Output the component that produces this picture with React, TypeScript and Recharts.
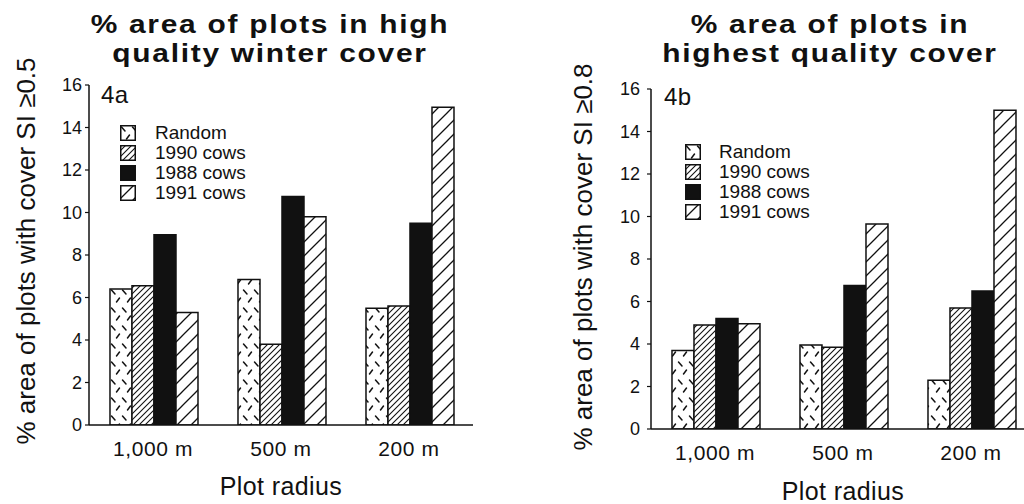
import React from 'react';
import { BarChart, Bar, XAxis, YAxis, Legend, Label } from 'recharts';

// ---- data ----
const categories = ['1,000 m', '500 m', '200 m'];
const seriesNames = ['Random', '1990 cows', '1988 cows', '1991 cows'];
const seriesKeys = ['random', 'cows1990', 'cows1988', 'cows1991'];
const yTicks = [0, 2, 4, 6, 8, 10, 12, 14, 16];

// 4a: high quality winter cover (SI >= 0.5)
const winterRandom = [6.4, 6.85, 5.5];
const winter1990 = [6.55, 3.8, 5.6];
const winter1988 = [8.95, 10.75, 9.5];
const winter1991 = [5.3, 9.8, 14.95];

// 4b: highest quality cover (SI >= 0.8)
const highestRandom = [3.7, 3.95, 2.3];
const highest1990 = [4.9, 3.85, 5.7];
const highest1988 = [5.2, 6.75, 6.5];
const highest1991 = [4.95, 9.65, 15.0];

const titleA = ['% area of plots in high', 'quality winter cover'];
const titleB = ['% area of plots in', 'highest quality cover'];
const yLabelA = '% area of plots with cover SI \u22650.5';
const yLabelB = '% area of plots with cover SI \u22650.8';
const xLabel = 'Plot radius';

const buildRows = (a: number[], b: number[], c: number[], d: number[]) =>
  categories.map((radius, i) => ({
    radius,
    random: a[i],
    cows1990: b[i],
    cows1988: c[i],
    cows1991: d[i],
  }));

const dataA = buildRows(winterRandom, winter1990, winter1988, winter1991);
const dataB = buildRows(highestRandom, highest1990, highest1988, highest1991);

// ---- styles ----
const FONT = '"Liberation Sans", Arial, Helvetica, sans-serif';
const INK = '#111';
const fills = ['url(#pRandom)', 'url(#pDense)', INK, 'url(#pSparse)'];
const fillFor = (name: string) => {
  const i = seriesNames.indexOf(name);
  return i >= 0 ? fills[i] : INK;
};

function PatternDefs() {
  return (
    <svg width={0} height={0} style={{ position: 'absolute' }} aria-hidden="true">
      <defs>
        <pattern id="pRandom" patternUnits="userSpaceOnUse" width={11} height={18}>
          <rect width={11} height={18} fill="#fff" />
          <path
            d="M1.5,2 L5,6 M6.5,14 L9.5,10"
            stroke={INK}
            strokeWidth={1.5}
            strokeLinecap="round"
            fill="none"
          />
        </pattern>
        <pattern id="pDense" patternUnits="userSpaceOnUse" width={6} height={6}>
          <rect width={6} height={6} fill="#fff" />
          <path d="M0,6 L6,0 M-1.5,1.5 L1.5,-1.5 M4.5,7.5 L7.5,4.5" stroke={INK} strokeWidth={1.1} />
        </pattern>
        <pattern id="pSparse" patternUnits="userSpaceOnUse" width={14} height={14}>
          <rect width={14} height={14} fill="#fff" />
          <path d="M0,14 L14,0 M-3,3 L3,-3 M11,17 L17,11" stroke={INK} strokeWidth={1.3} />
        </pattern>
      </defs>
    </svg>
  );
}

function LegendBox(props: any) {
  const { payload, gap } = props;
  const present: string[] =
    payload && payload.length ? payload.map((p: any) => String(p.value)) : seriesNames;
  const names = seriesNames.filter((n) => present.indexOf(n) >= 0);
  return (
    <div style={{ fontFamily: FONT, fontSize: 19, color: INK }}>
      {names.map((name) => (
        <div key={name} style={{ display: 'flex', alignItems: 'center', height: 20 }}>
          <svg width={16} height={16} style={{ display: 'block' }}>
            <rect x={0.75} y={0.75} width={14.5} height={14.5} fill={fillFor(name)} stroke={INK} strokeWidth={1.5} />
          </svg>
          <span style={{ marginLeft: gap, lineHeight: '20px', whiteSpace: 'nowrap' }}>{name}</span>
        </div>
      ))}
    </div>
  );
}

function YLabelContent(props: any) {
  const { viewBox, value, inset, lift } = props;
  const vb = viewBox || { x: 0, y: 0, width: 0, height: 0 };
  const bx = vb.x + vb.width - inset;
  const cy = vb.y + vb.height / 2 - lift;
  return (
    <text
      x={bx}
      y={cy}
      transform={`rotate(-90 ${bx} ${cy})`}
      textAnchor="middle"
      fontSize={26}
      fontFamily={FONT}
      fill={INK}
    >
      {value}
    </text>
  );
}

function XLabelContent(props: any) {
  const { viewBox, value, drop } = props;
  const vb = viewBox || { x: 0, y: 0, width: 0, height: 0 };
  return (
    <text
      x={vb.x + vb.width / 2}
      y={vb.y + drop}
      textAnchor="middle"
      fontSize={25}
      fontFamily={FONT}
      fill={INK}
      letterSpacing={0.4}
    >
      {value}
    </text>
  );
}

type PanelProps = {
  data: any[];
  width: number;
  margin: { top: number; right: number; bottom: number; left: number };
  yAxisWidth: number;
  yTickMargin: number;
  yLabel: string;
  yInset: number;
  yLift: number;
  xDrop: number;
  legendLeft: number;
  legendTop: number;
  legendGap: number;
};

function Panel(p: PanelProps) {
  return (
    <BarChart
      width={p.width}
      height={504}
      data={p.data}
      margin={p.margin}
      barCategoryGap="16.4%"
      barGap={0}
    >
      <XAxis
        dataKey="radius"
        height={30}
        axisLine={{ stroke: INK, strokeWidth: 1.5 }}
        tickLine={false}
        tickSize={0}
        tickMargin={16}
        tick={{ fill: INK, fontSize: 21, fontFamily: FONT, letterSpacing: 0.6 }}
      >
        <Label value={xLabel} content={<XLabelContent drop={p.xDrop} />} />
      </XAxis>
      <YAxis
        width={p.yAxisWidth}
        domain={[0, 16]}
        ticks={yTicks}
        interval={0}
        allowDataOverflow
        axisLine={{ stroke: INK, strokeWidth: 1.5 }}
        tickLine={{ stroke: INK, strokeWidth: 1.2 }}
        tickSize={4}
        tickMargin={p.yTickMargin}
        tick={{ fill: INK, fontSize: 18, fontFamily: FONT }}
      >
        <Label value={p.yLabel} content={<YLabelContent inset={p.yInset} lift={p.yLift} />} />
      </YAxis>
      <Legend
        layout="vertical"
        align="center"
        verticalAlign="middle"
        content={<LegendBox gap={p.legendGap} />}
        wrapperStyle={{ left: p.legendLeft, top: p.legendTop, width: 'auto', height: 'auto' }}
      />
      {seriesKeys.map((k, i) => (
        <Bar
          key={k}
          dataKey={k}
          name={seriesNames[i]}
          fill={fills[i]}
          stroke={INK}
          strokeWidth={1.5}
          isAnimationActive={false}
        />
      ))}
    </BarChart>
  );
}

const titleStyle: React.CSSProperties = {
  position: 'absolute',
  textAlign: 'center',
  fontFamily: FONT,
  fontWeight: 'bold',
  fontSize: 26,
  lineHeight: '29.5px',
  letterSpacing: 1.5,
  color: INK,
  whiteSpace: 'nowrap',
  transform: 'scaleX(1.15)',
  transformOrigin: '50% 50%',
};

const panelTag: React.CSSProperties = {
  position: 'absolute',
  fontFamily: FONT,
  fontSize: 24,
  lineHeight: '24px',
  letterSpacing: 0.5,
  color: INK,
};

export default function App() {
  return (
    <div
      style={{
        position: 'absolute',
        left: 0,
        top: 0,
        width: 1024,
        height: 504,
        overflow: 'hidden',
        background: '#fff',
      }}
    >
      <PatternDefs />
      <div style={{ position: 'absolute', left: 0, top: 0 }}>
        <Panel
          data={dataA}
          width={512}
          margin={{ top: 85, right: 39, bottom: 49, left: 0 }}
          yAxisWidth={89}
          yTickMargin={3}
          yLabel={yLabelA}
          yInset={54}
          yLift={4}
          xDrop={70}
          legendLeft={120}
          legendTop={123}
          legendGap={19}
        />
      </div>
      <div style={{ position: 'absolute', left: 512, top: 0 }}>
        <Panel
          data={dataB}
          width={530}
          margin={{ top: 89, right: 7, bottom: 45, left: 0 }}
          yAxisWidth={139}
          yTickMargin={7}
          yLabel={yLabelB}
          yInset={59}
          yLift={2}
          xDrop={71}
          legendLeft={173}
          legendTop={142}
          legendGap={18}
        />
      </div>
      <div style={{ ...titleStyle, left: 0, width: 540, top: 9.5 }}>
        {titleA[0]}
        <br />
        {titleA[1]}
      </div>
      <div style={{ ...titleStyle, left: 630, width: 400, top: 9.5 }}>
        {titleB[0]}
        <br />
        {titleB[1]}
      </div>
      <div style={{ ...panelTag, left: 101, top: 83 }}>4a</div>
      <div style={{ ...panelTag, left: 664, top: 85 }}>4b</div>
    </div>
  );
}
